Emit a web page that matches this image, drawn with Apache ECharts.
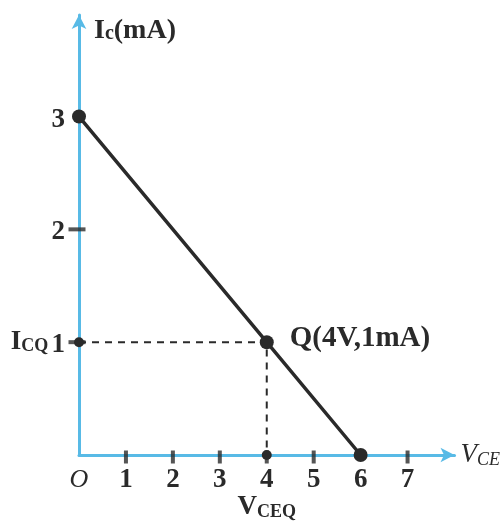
<!DOCTYPE html>
<html>
<head>
<meta charset="utf-8">
<script src="https://cdn.jsdelivr.net/npm/echarts@6/dist/echarts.min.js"></script>
<style>
  html, body { margin: 0; padding: 0; background: #ffffff; }
  #chart { width: 503px; height: 526px; }
</style>
</head>
<body>
<div id="chart"></div>
<script>
// DC load line of a transistor stage with its Q point
const loadLine = [[0, 3], [4, 1], [6, 0]];          // Vce (V), Ic (mA)
const qPoint = [4, 1];
const qLabel = 'Q(4V,1mA)';
const projection = [[0, 1], [4, 1], [4, 0]];        // dashed guides to the axes
const xTickValues = [1, 2, 3, 4, 5, 7];
const yTickValues = [1, 2];
const xLabels = ['O', '1', '2', '3', '4', '5', '6', '7'];
const yLabels = ['', '1', '2', '3'];

const serif = "'Liberation Serif', 'Times New Roman', serif";
const axisBlue = '#58bae6';
const ink = '#2a2a2a';

const chart = echarts.init(document.getElementById('chart'));

chart.setOption({
  backgroundColor: '#ffffff',
  animation: false,
  grid: { left: 79, right: 48, top: 15, bottom: 71, containLabel: false },
  xAxis: {
    type: 'value', min: 0, max: 8, interval: 1,
    axisLine: { lineStyle: { color: axisBlue, width: 3 }, symbol: ['none', 'arrow'], symbolSize: [11, 14] },
    axisTick: { show: false },
    splitLine: { show: false },
    axisLabel: {
      margin: 12,
      formatter: function (v) {
        if (v === 0) return '{o|O}';
        if (v === 4) return '{n|4}\n{v|V}{s|CEQ}';
        return v < xLabels.length ? '{n|' + xLabels[v] + '}' : '';
      },
      rich: {
        o: { fontFamily: serif, fontStyle: 'italic', fontSize: 26, color: ink, lineHeight: 26 },
        n: { fontFamily: serif, fontWeight: 'bold', fontSize: 27, color: ink, lineHeight: 26 },
        v: { fontFamily: serif, fontWeight: 'bold', fontSize: 27, color: ink, lineHeight: 28 },
        s: { fontFamily: serif, fontWeight: 'bold', fontSize: 18, color: ink, lineHeight: 28, verticalAlign: 'bottom' }
      }
    },
    name: '{v|V}{s|CE}',
    nameLocation: 'end',
    nameGap: 6,
    nameTextStyle: {
      rich: {
        v: { fontFamily: serif, fontStyle: 'italic', fontSize: 27, color: ink },
        s: { fontFamily: serif, fontStyle: 'italic', fontSize: 18, color: ink, padding: [10, 0, 0, 0] }
      }
    }
  },
  yAxis: {
    type: 'value', min: 0, max: 3.9, interval: 1,
    axisLine: { lineStyle: { color: axisBlue, width: 3 }, symbol: ['none', 'arrow'], symbolSize: [11, 14] },
    axisTick: { show: false },
    splitLine: { show: false },
    axisLabel: {
      margin: 14,
      formatter: function (v) {
        if (v === 1) return '{i|I}{s|CQ} {n|1}';
        if (Number.isInteger(v) && v < yLabels.length) return '{n|' + yLabels[v] + '}';
        return '';
      },
      rich: {
        n: { fontFamily: serif, fontWeight: 'bold', fontSize: 27, color: ink, padding: [6, 0, 0, 0] },
        i: { fontFamily: serif, fontWeight: 'bold', fontSize: 27, color: ink },
        s: { fontFamily: serif, fontWeight: 'bold', fontSize: 18, color: ink, padding: [8, 0, 0, 0] }
      }
    },
    name: '{i|I}{s|c}{i|(mA)}',
    nameLocation: 'end',
    nameGap: -16,
    nameTextStyle: {
      align: 'left',
      verticalAlign: 'middle',
      padding: [0, 0, 0, 15],
      rich: {
        i: { fontFamily: serif, fontWeight: 'bold', fontSize: 28, color: ink },
        s: { fontFamily: serif, fontWeight: 'bold', fontSize: 20, color: ink, padding: [6, 0, 0, 0] }
      }
    }
  },
  series: [
    {
      // tick marks crossing the horizontal axis
      type: 'scatter',
      data: xTickValues.map(function (x) { return [x, 0]; }),
      symbol: 'rect',
      symbolSize: [4, 13],
      symbolOffset: [0, 2],
      itemStyle: { color: ink },
      z: 3
    },
    {
      // tick marks crossing the vertical axis
      type: 'scatter',
      data: yTickValues.map(function (y) { return [0, y]; }),
      symbol: 'rect',
      symbolSize: [17, 4],
      symbolOffset: [-2, 0],
      itemStyle: { color: ink },
      z: 3
    },
    {
      type: 'line',
      data: projection,
      symbol: 'circle',
      symbolSize: 10,
      showSymbol: true,
      lineStyle: { color: ink, width: 2, type: [7, 6] },
      itemStyle: { color: ink },
      z: 4
    },
    {
      type: 'line',
      data: loadLine,
      symbol: 'circle',
      symbolSize: 14,
      showSymbol: true,
      lineStyle: { color: ink, width: 3.5 },
      itemStyle: { color: ink },
      label: {
        show: true,
        position: 'right',
        distance: 16,
        offset: [0, -4],
        formatter: function (p) {
          return (p.data[0] === qPoint[0] && p.data[1] === qPoint[1]) ? qLabel : '';
        },
        fontFamily: serif,
        fontWeight: 'bold',
        fontSize: 29,
        color: ink
      },
      z: 5
    }
  ]
});
</script>
</body>
</html>
